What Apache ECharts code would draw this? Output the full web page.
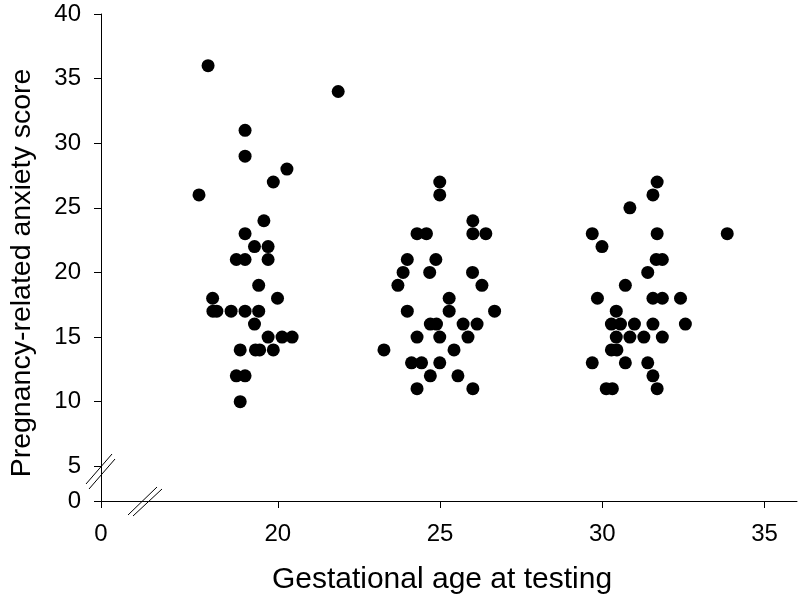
<!DOCTYPE html>
<html>
<head>
<meta charset="utf-8">
<script src="https://cdn.jsdelivr.net/npm/echarts@6/dist/echarts.min.js"></script>
<style>html,body{margin:0;padding:0;background:#fff;}#c{width:800px;height:606px;}</style>
</head>
<body>
<div id="c"></div>
<script>
// Gestational age (weeks) and pregnancy-related anxiety score, three testing waves
var ageWave1   = [17.85,21.86,18.99,18.99,20.28,19.86,17.57,19.57,18.99,19.28,19.70,18.72,18.99,19.70,19.41,17.99,19.99,18.00,18.12,18.56,18.99,19.41,19.28,19.70,20.13,20.44,18.84,19.31,19.44,19.86,18.72,18.99,18.84];
var scoreWave1 = [36,34,31,29,28,27,26,24,23,22,22,21,21,21,19,18,18,17,17,17,17,17,16,15,15,15,14,14,14,14,12,12,10];
var ageWave2   = [24.99,24.99,26.01,24.29,24.58,26.01,26.41,23.99,24.87,23.86,24.68,26.00,23.70,26.29,25.28,23.99,25.28,26.68,24.70,24.89,25.71,26.14,24.29,24.99,25.86,23.27,25.43,24.12,24.43,24.99,24.70,25.55,24.29,26.01];
var scoreWave2 = [27,26,24,23,23,23,23,21,21,20,20,20,19,19,18,17,17,17,16,16,16,16,15,15,15,14,14,13,13,13,12,12,11,11];
var ageWave3   = [31.69,31.56,30.85,29.69,31.69,33.85,29.99,31.66,31.85,31.40,30.71,29.85,31.56,31.85,32.41,30.43,30.28,30.56,30.99,31.56,32.56,30.43,30.85,31.28,31.85,30.28,30.45,29.69,30.71,31.40,31.56,30.12,30.31,31.69];
var scoreWave3 = [27,26,25,23,23,23,22,21,21,20,19,18,18,18,18,17,16,16,16,16,16,15,15,15,15,14,14,13,13,13,12,11,11,11];

// Broken axes: the axis minimum is displayed as "0"
var xMin = 14.55, xMax = 36;
var yMin = 2.31, yMax = 40;
var xTicks = [xMin, 20, 25, 30, 35];
var yTicks = [yMin, 5, 10, 15, 20, 25, 30, 35, 40];
var xTitle = 'Gestational age at testing';
var yTitle = 'Pregnancy-related anxiety score';

function pairs(a, b) { return a.map(function (v, i) { return [v, b[i]]; }); }
var points = pairs(ageWave1, scoreWave1).concat(pairs(ageWave2, scoreWave2), pairs(ageWave3, scoreWave3));

var FONT = '"Liberation Sans", Arial, sans-serif';
var chart = echarts.init(document.getElementById('c'));
var brk = { type: 'line', silent: true, style: { stroke: '#000', lineWidth: 1 } };
function seg(x1, y1, x2, y2) {
  return Object.assign({}, brk, { shape: { x1: x1, y1: y1, x2: x2, y2: y2 } });
}
chart.setOption({
  animation: false,
  backgroundColor: '#fff',
  grid: { left: 101, right: 3, top: 14, bottom: 105, containLabel: false },
  xAxis: {
    type: 'value', min: xMin, max: xMax,
    axisLine: { show: true, lineStyle: { color: '#000', width: 1 } },
    axisTick: { show: true, customValues: xTicks, length: 7, inside: false, lineStyle: { color: '#000' } },
    axisLabel: { customValues: xTicks, margin: 21, color: '#000', fontSize: 24, fontFamily: FONT,
      formatter: function (v) { return v < 15 ? '0' : String(v); } },
    splitLine: { show: false }
  },
  yAxis: {
    type: 'value', min: yMin, max: yMax,
    axisLine: { show: true, lineStyle: { color: '#000', width: 1 } },
    axisTick: { show: true, customValues: yTicks, length: 7, inside: false, lineStyle: { color: '#000' } },
    axisLabel: { customValues: yTicks, margin: 20, color: '#000', fontSize: 24, fontFamily: FONT,
      formatter: function (v) { return v < 3 ? '0' : String(v); } },
    splitLine: { show: false }
  },
  series: [{
    type: 'scatter',
    data: points,
    symbol: 'circle',
    symbolSize: 13,
    itemStyle: { color: '#000', opacity: 1 }
  }],
  graphic: [
    { type: 'text', x: 442, y: 580, silent: true,
      style: { text: xTitle, fontSize: 30, fontFamily: FONT, fill: '#000', textAlign: 'center', textVerticalAlign: 'middle' } },
    { type: 'text', x: 22, y: 273, rotation: Math.PI / 2, silent: true,
      style: { text: yTitle, fontSize: 28.5, fontFamily: FONT, fill: '#000', textAlign: 'center', textVerticalAlign: 'middle' } },
    seg(86, 484, 112, 454),
    seg(89, 489, 115, 459),
    seg(128, 515, 157, 487),
    seg(133, 516, 162, 489)
  ]
});
</script>
</body>
</html>
